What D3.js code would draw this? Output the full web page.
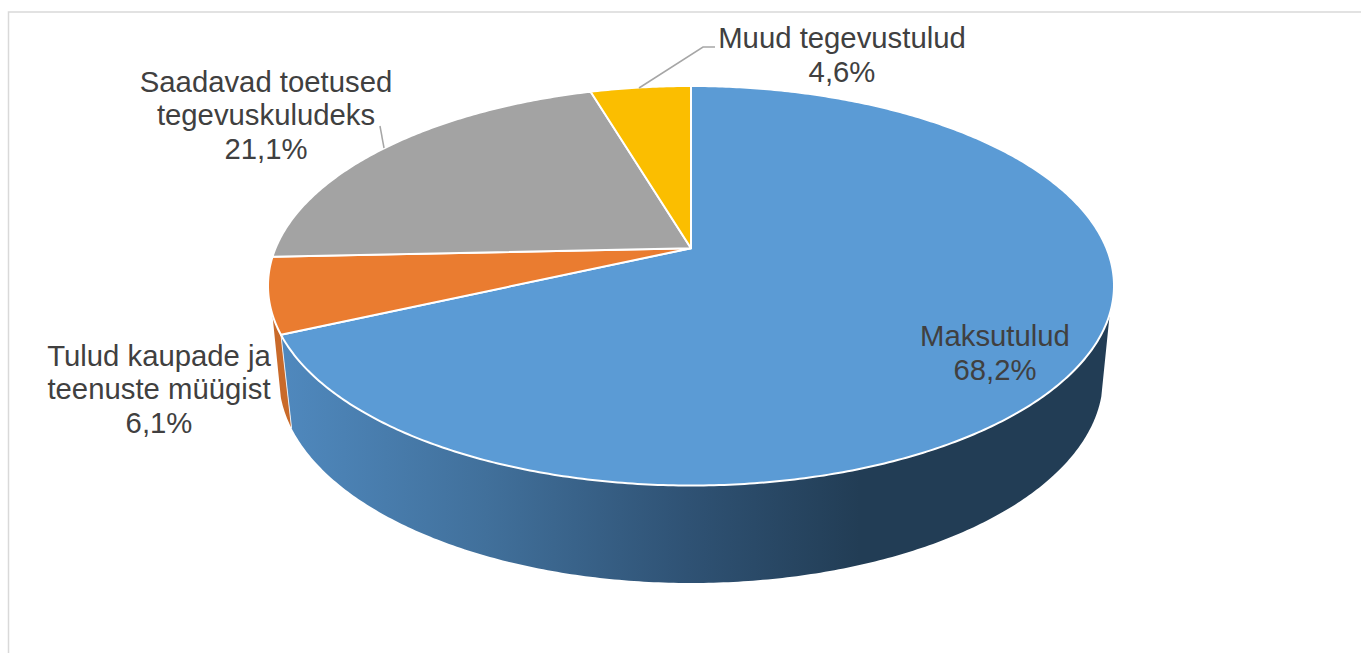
<!DOCTYPE html>
<html>
<head>
<meta charset="utf-8">
<script src="https://cdn.jsdelivr.net/npm/d3@7"></script>
<style>
  html, body { margin: 0; padding: 0; background: #fff; overflow: hidden; }
  svg { display: block; }
  text { font-family: "Liberation Sans", Arial, sans-serif; font-size: 29.3px; fill: #404040; text-anchor: middle; }
</style>
</head>
<body>
<svg id="canvas"></svg>
<script>
let categories = ['Maksutulud', 'Tulud kaupade ja teenuste müügist', 'Saadavad toetused tegevuskuludeks', 'Muud tegevustulud'];
let shares = [68.2, 6.1, 21.1, 4.6];
let shareLabels = ['68,2%', '6,1%', '21,1%', '4,6%'];

let width = 1361;
let height = 653;

let topColors = ['#5b9bd5', '#ea7c30', '#a3a3a3', '#fbbe00'];

// label lines, one row per category
let labelRows = [
	[{ t: 'Maksutulud', x: 995, y: 346 }, { t: shareLabels[0], x: 995, y: 380 }],
	[{ t: 'Tulud kaupade ja', x: 159, y: 366 }, { t: 'teenuste müügist', x: 159, y: 399 }, { t: shareLabels[1], x: 159, y: 433 }],
	[{ t: 'Saadavad toetused', x: 266, y: 92 }, { t: 'tegevuskuludeks', x: 266, y: 125 }, { t: shareLabels[2], x: 266, y: 159 }],
	[{ t: 'Muud tegevustulud', x: 842, y: 48 }, { t: shareLabels[3], x: 842, y: 82 }]
];

let leaders = [
	[[384, 148], [380, 126]],
	[[639, 88], [703, 47], [715, 47]]
];

// how far the pie centre sits from the middle of the ellipse (perspective)
let tilt = 0.188;
// points on the outlines where the side wall starts to show
let edgeTop = -0.138;
let edgeBase = -0.09;

let xTop = d3.scaleLinear().domain([-1, 1]).range([268, 1114]);
let yTop = d3.scaleLinear().domain([-1, 1]).range([485.5, 86]);
let xBase = d3.scaleLinear().domain([-1, 1]).range([279, 1103]);
let yBase = d3.scaleLinear().domain([-1, 1]).range([583, 173]);

let svg = d3.select('#canvas').attr('width', width).attr('height', height);

let project = (a) => {
	let u = Math.sin(a);
	let v = Math.cos(a);
	let d = 1 + tilt * v;
	return { u: u * Math.sqrt(1 - tilt * tilt) / d, v: (v + tilt) / d };
};

let sampleArc = (a0, a1) => {
	let n = Math.max(2, Math.ceil((a1 - a0) / 0.01));
	return d3.range(n + 1).map((i) => project(a0 + (a1 - a0) * i / n));
};

let line = d3.line();
let pie = d3.pie().sort(null).value((d) => d);
let arcs = pie(shares);

let topPt = (p) => [xTop(p.u), yTop(p.v)];
let basePt = (p) => [xBase(p.u), yBase(p.v)];

let drawFrame = () => {
	svg.append('path')
		.attr('d', line([[8.5, height], [8.5, 12], [width, 12]]))
		.attr('fill', 'none')
		.attr('stroke', '#d9d9d9')
		.attr('stroke-width', 1.5);
};

let drawGradient = () => {
	let grad = svg.append('defs').append('linearGradient')
		.attr('id', 'sideBlue')
		.attr('gradientUnits', 'userSpaceOnUse')
		.attr('x1', 285).attr('x2', 860)
		.attr('y1', 0).attr('y2', 0);
	grad.append('stop').attr('offset', 0).attr('stop-color', '#4f88bd');
	grad.append('stop').attr('offset', 0.35).attr('stop-color', '#41709b');
	grad.append('stop').attr('offset', 0.7).attr('stop-color', '#2f5274');
	grad.append('stop').attr('offset', 1).attr('stop-color', '#223d55');
};

let drawSides = () => {
	// only blue and orange show a wall, the far slices hide theirs
	let fills = ['url(#sideBlue)', '#c96a2a'];
	arcs.slice(0, 2).forEach((d, i) => {
		let pts = sampleArc(d.startAngle, d.endAngle);
		let upper = pts.filter((p) => p.v <= edgeTop).map(topPt);
		let lower = pts.filter((p) => p.v <= edgeBase).map(basePt).reverse();
		svg.append('path')
			.attr('d', line(upper.concat(lower)) + 'Z')
			.attr('fill', fills[i]);
	});
	// pale seam between the blue and orange walls
	let seam = project(arcs[0].endAngle);
	svg.append('path')
		.attr('d', line([topPt(seam), basePt(seam)]))
		.attr('fill', 'none')
		.attr('stroke', '#e8eef4')
		.attr('stroke-width', 1);
};

let drawSlices = () => {
	let apex = [xTop(0), yTop(tilt)];
	svg.selectAll('.slice')
		.data(arcs)
		.enter()
		.append('path')
		.attr('class', 'slice')
		.attr('d', (d) => line([apex].concat(sampleArc(d.startAngle, d.endAngle).map(topPt))) + 'Z')
		.attr('fill', (d, i) => topColors[i])
		.attr('stroke', '#fff')
		.attr('stroke-width', 2)
		.attr('stroke-linejoin', 'round');
};

let drawLabels = () => {
	svg.selectAll('.leader')
		.data(leaders)
		.enter()
		.append('path')
		.attr('class', 'leader')
		.attr('d', (d) => line(d))
		.attr('fill', 'none')
		.attr('stroke', '#a6a6a6')
		.attr('stroke-width', 1.5);

	svg.selectAll('.label')
		.data(labelRows.flat())
		.enter()
		.append('text')
		.attr('class', 'label')
		.attr('x', (d) => d.x)
		.attr('y', (d) => d.y)
		.text((d) => d.t);
};

drawFrame();
drawGradient();
drawSides();
drawSlices();
drawLabels();
</script>
</body>
</html>
